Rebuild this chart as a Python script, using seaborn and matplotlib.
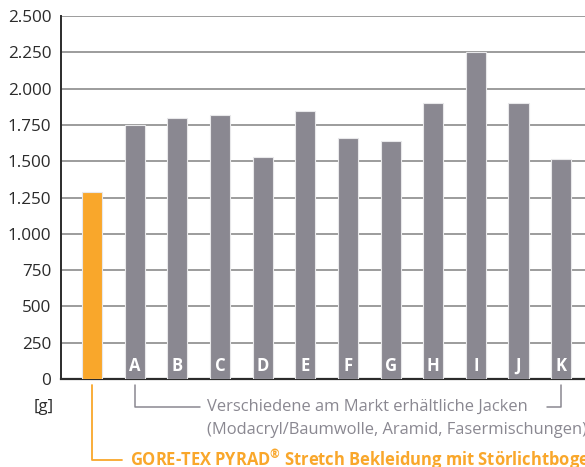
import matplotlib.pyplot as plt
import matplotlib.transforms as mtransforms
import seaborn as sns
import pandas as pd

# Values (weight in g)
categories = ['GORE', 'A', 'B', 'C', 'D', 'E', 'F', 'G', 'H', 'I', 'J', 'K']
weights = [1285, 1750, 1800, 1820, 1530, 1845, 1660, 1640, 1900, 2255, 1900, 1515]
bar_letters = ['', 'A', 'B', 'C', 'D', 'E', 'F', 'G', 'H', 'I', 'J', 'K']
y_ticks = [0, 250, 500, 750, 1000, 1250, 1500, 1750, 2000, 2250, 2500]
y_tick_labels = ['0', '250', '500', '750', '1.000', '1.250', '1.500', '1.750',
                 '2.000', '2.250', '2.500']

ORANGE = '#F9A72B'
GREY = '#8A8891'
GRID = '#9C9C9C'
TEXT = '#2B2B2B'

sns.set_style('white')
plt.rcParams['font.family'] = ['Open Sans', 'DejaVu Sans']

df = pd.DataFrame({'cat': categories, 'weight': weights})
colors = [ORANGE] + [GREY] * (len(categories) - 1)

fig = plt.figure(figsize=(5.85, 4.67), dpi=100)
ax = fig.add_axes([0.1043, 0.1884, 0.8957, 0.7773])

sns.barplot(data=df, x='cat', y='weight', hue='cat', palette=colors,
            width=0.47, legend=False, ax=ax, saturation=1, zorder=3,
            edgecolor='#E8E8EA', linewidth=0.8)

ax.set_ylim(0, 2500)
ax.set_xlim(-0.73, 11.56)
ax.set_yticks(y_ticks)
ax.set_yticklabels(y_tick_labels)
ax.set_xticks([])
ax.set_xlabel('')
ax.set_ylabel('')
ax.tick_params(axis='y', length=0, pad=7, labelsize=12.3, labelcolor=TEXT)

for y in y_ticks[1:]:
    ax.axhline(y, color=GRID, lw=1.4, zorder=1)

for s in ['top', 'right']:
    ax.spines[s].set_visible(False)
ax.spines['left'].set_color(TEXT)
ax.spines['left'].set_linewidth(1.4)
ax.spines['bottom'].set_color(TEXT)
ax.spines['bottom'].set_linewidth(1.6)

# Letters inside the grey bars
for i, lab in enumerate(bar_letters):
    if lab:
        ax.text(i, 92, lab, ha='center', va='center', color='white',
                fontsize=12, fontweight='bold', zorder=4)

# Brackets below the axis (x in data, y in figure fraction)
trans = mtransforms.blended_transform_factory(ax.transData, fig.transFigure)

y_top = 1 - 385 / 467
y_grey = 1 - 407 / 467
y_orange = 1 - 460 / 467

ax.plot([1, 1, 2.53], [y_top, y_grey, y_grey], transform=trans, color=GREY,
        lw=1.1, clip_on=False)
ax.plot([10.66, 11, 11], [y_grey, y_grey, y_top], transform=trans, color=GREY,
        lw=1.1, clip_on=False)
ax.text(2.7, y_grey, 'Verschiedene am Markt erhältliche Jacken', transform=trans,
        ha='left', va='center', color=GREY, fontsize=11.9)
ax.text(2.7, 1 - 430 / 467, '(Modacryl/Baumwolle, Aramid, Fasermischungen)',
        transform=trans, ha='left', va='center', color=GREY, fontsize=11.9,
        clip_on=False)

ax.plot([0, 0, 0.71], [y_top, y_orange, y_orange], transform=trans, color=ORANGE,
        lw=1.3, clip_on=False)
ax.text(0.88, y_orange, 'GORE-TEX PYRAD$^{\\mathregular{®}}$ Stretch Bekleidung mit Störlichtbogenschutz',
        transform=trans, ha='left', va='center', color=ORANGE, fontsize=11.9,
        fontweight='bold')

fig.text(44 / 585, y_grey, '[g]', ha='center', va='center', color=TEXT, fontsize=12)

plt.savefig('out.png', dpi=100)
plt.close()
